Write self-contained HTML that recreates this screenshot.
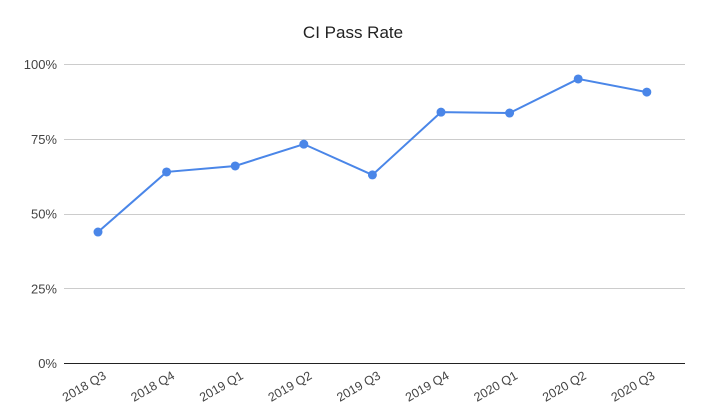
<!DOCTYPE html>
<html><head><meta charset="utf-8"><style>
body{margin:0;background:#fff}
svg{display:block;font-family:"Liberation Sans",Arial,sans-serif}
</style></head><body>
<svg id="c" width="706" height="420">
<text x="353" y="38" text-anchor="middle" font-size="17" fill="#222">CI Pass Rate</text>
<g id="grid"></g><g id="xl"></g><g id="series"></g>
</svg>
<script>
const categories=["2018 Q3","2018 Q4","2019 Q1","2019 Q2","2019 Q3","2019 Q4","2020 Q1","2020 Q2","2020 Q3"];
const passRate=[43.8,63.9,65.9,73.2,62.9,83.9,83.6,95.0,90.6];
const yTicks=[0,25,50,75,100];
const NS="http://www.w3.org/2000/svg";
const x0=64,x1=685,y0=363,y1=64,band=68.6,bandStart=63.7;
const xs=i=>bandStart+band*(i+0.5);
const ys=v=>y0-(v/100)*(y0-y1);
function mk(t,a,p){const e=document.createElementNS(NS,t);for(const k in a)e.setAttribute(k,a[k]);p.appendChild(e);return e;}
const g=document.getElementById('grid');
yTicks.forEach(v=>{
 const yy=Math.round(ys(v))+0.5;
 const l=mk('line',{x1:x0,x2:x1,y1:yy,y2:yy,stroke:v===0?'#222':'#ccc','stroke-width':1},g);
 
 
 const t=mk('text',{x:57,y:ys(v)+5,'text-anchor':'end','font-size':13,fill:'#444'},g);
 t.textContent=v+'%';
 
 
});
const xl=document.getElementById('xl');
categories.forEach((c,i)=>{
 const x=xs(i)+9,y=378;
 const t=mk('text',{x:x,y:y,'text-anchor':'end','font-size':12.5,fill:'#444',transform:`rotate(-30 ${x} ${y})`},xl);
 t.textContent=c;
 
 
});
const s=document.getElementById('series');
const pl=mk('polyline',{points:passRate.map((v,i)=>xs(i)+','+ys(v)).join(' '),fill:'none',stroke:'#4a86e8','stroke-width':2},s);


passRate.forEach((v,i)=>{
 const c=mk('circle',{cx:xs(i),cy:ys(v),r:4.5,fill:'#4a86e8'},s);
 
 
});
</script>
</body></html>
